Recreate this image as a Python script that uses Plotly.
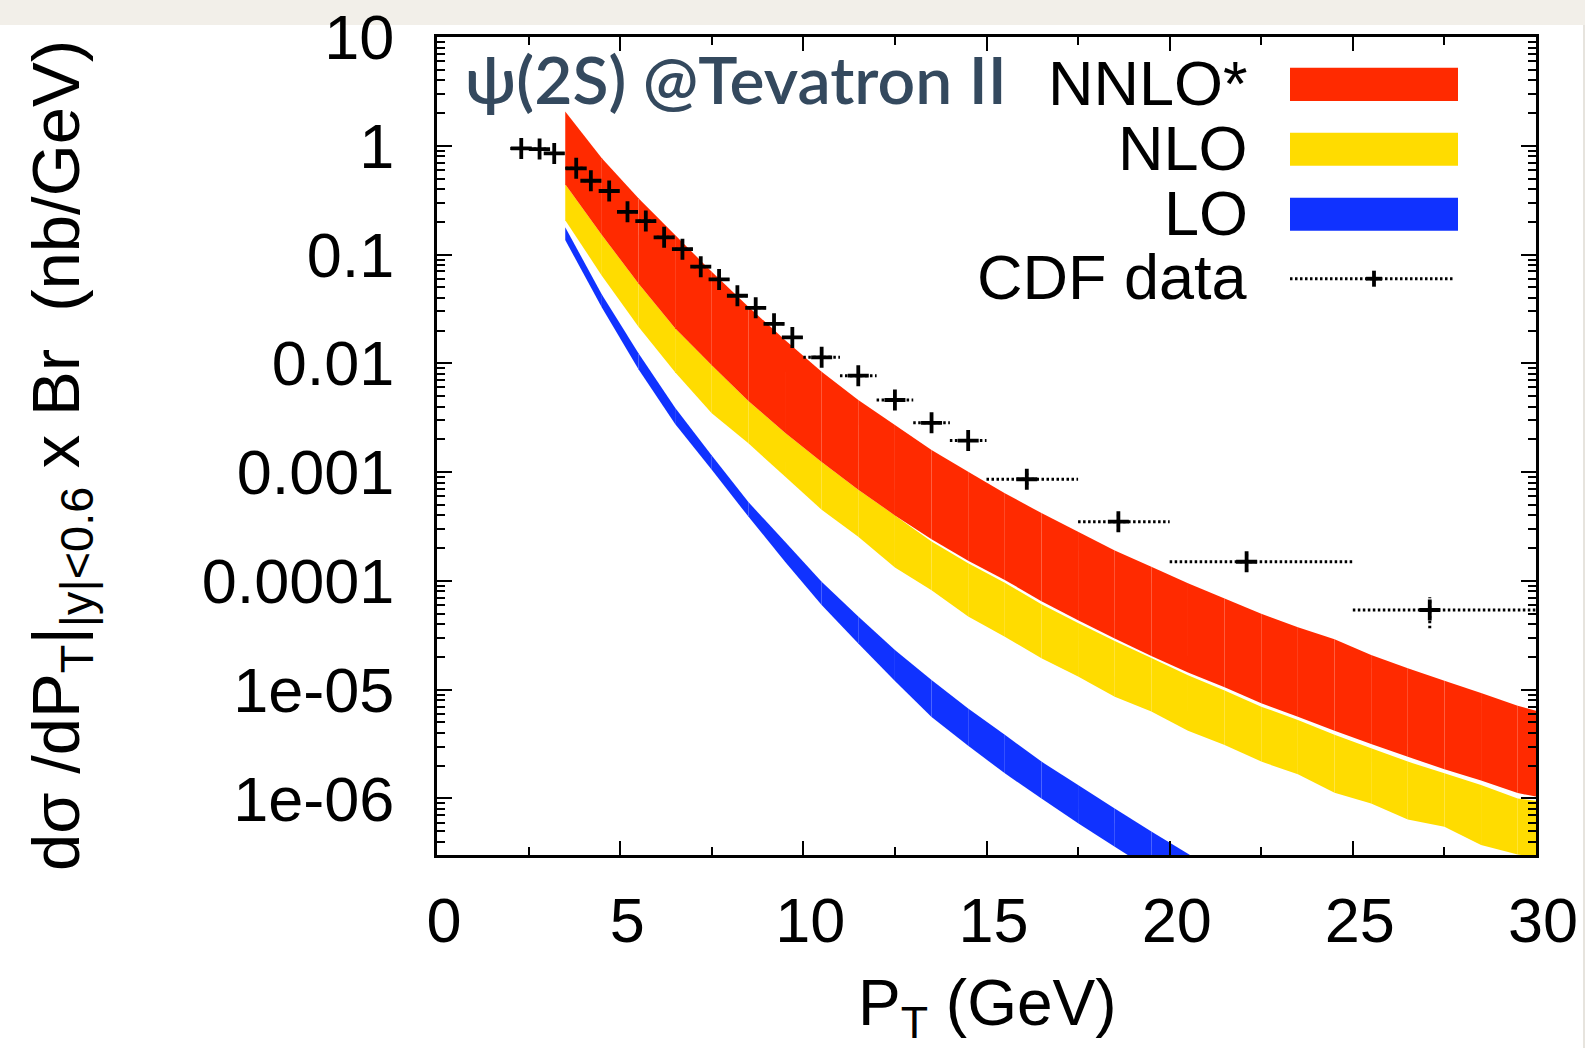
import plotly.graph_objects as go

# ---------------- data ----------------
pt_nodes = [3.5, 4.5, 5.5, 6.5, 7.5, 8.5, 9.5, 10.5, 11.5, 12.5, 13.5, 14.5, 15.5, 16.5,
            17.5, 18.5, 19.5, 20.5, 21.5, 22.5, 23.5, 24.5, 25.5, 26.5, 27.5, 28.5, 29.5, 30.0]

nnlo_hi = [2.07, 0.766, 0.329, 0.151, 0.0695, 0.0331, 0.0164, 0.00838, 0.0046, 0.00271,
           0.0016, 0.00101, 6.4e-4, 4.2e-4, 2.83e-4, 1.9e-4, 1.35e-4, 9.5e-5, 6.9e-5, 5.0e-5,
           3.74e-5, 2.9e-5, 2.08e-5, 1.57e-5, 1.21e-5, 9.3e-6, 7.1e-6, 6.4e-6]
nnlo_lo = [0.442, 0.151, 0.0543, 0.021, 0.0096, 0.0045, 0.0023, 0.00124, 6.9e-4, 4.0e-4,
           2.42e-4, 1.53e-4, 1.02e-4, 6.5e-5, 4.35e-5, 2.95e-5, 2.04e-5, 1.44e-5, 1.05e-5, 7.5e-6,
           5.65e-6, 4.2e-6, 3.17e-6, 2.42e-6, 1.85e-6, 1.46e-6, 1.12e-6, 1.04e-6]

nlo_hi = [0.442, 0.151, 0.0543, 0.021, 0.0096, 0.0045, 0.0023, 0.00124, 6.9e-4, 4.0e-4,
          2.3e-4, 1.45e-4, 9.6e-5, 6.1e-5, 4.1e-5, 2.8e-5, 1.95e-5, 1.36e-5, 9.8e-6, 6.98e-6,
          5.27e-6, 3.84e-6, 2.89e-6, 2.18e-6, 1.7e-6, 1.33e-6, 1.0e-6, 9.5e-7]
nlo_lo = [0.207, 0.064, 0.0217, 0.0083, 0.00348, 0.00184, 9.1e-4, 4.5e-4, 2.55e-4, 1.33e-4,
          8.2e-5, 4.7e-5, 3.07e-5, 1.94e-5, 1.32e-5, 8.6e-6, 6.3e-6, 4.2e-6, 3.1e-6, 2.18e-6,
          1.67e-6, 1.13e-6, 9.0e-7, 6.4e-7, 5.5e-7, 3.74e-7, 3.05e-7, 2.9e-7]

lo_pt = [3.5, 4.5, 5.5, 6.5, 7.5, 8.5, 9.5, 10.5, 11.5, 12.5, 13.5, 14.5, 15.5, 16.5,
         17.5, 18.5, 19.5, 20.5, 21.5]
lo_hi = [0.178, 0.043, 0.0124, 0.0039, 0.00142, 5.3e-4, 2.29e-4, 9.8e-5, 4.7e-5, 2.32e-5,
         1.23e-5, 6.7e-6, 3.84e-6, 2.18e-6, 1.33e-6, 8.1e-7, 4.96e-7, 3.1e-7, 1.9e-7]
lo_lo = [0.136, 0.0326, 0.0088, 0.00277, 0.00105, 3.9e-4, 1.5e-4, 6.0e-5, 2.65e-5, 1.2e-5,
         5.6e-6, 3.05e-6, 1.7e-6, 1.0e-6, 5.9e-7, 3.6e-7, 2.2e-7, 1.35e-7, 8.5e-8]

cdf_pt = [2.3, 2.8, 3.2, 3.8, 4.2, 4.7, 5.2, 5.7, 6.2, 6.7, 7.2, 7.7, 8.2, 8.7, 9.2, 9.7,
          10.5, 11.5, 12.5, 13.5, 14.5, 16.1, 18.6, 22.1, 27.1]
cdf_pt_lo = [2.0, 2.5, 3.0, 3.5, 4.0, 4.5, 5.0, 5.5, 6.0, 6.5, 7.0, 7.5, 8.0, 8.5, 9.0, 9.5,
             10.0, 11.0, 12.0, 13.0, 14.0, 15.0, 17.5, 20.0, 25.0]
cdf_pt_hi = [2.5, 3.0, 3.5, 4.0, 4.5, 5.0, 5.5, 6.0, 6.5, 7.0, 7.5, 8.0, 8.5, 9.0, 9.5, 10.0,
             11.0, 12.0, 13.0, 14.0, 15.0, 17.5, 20.0, 25.0, 30.0]
cdf_val = [0.946, 0.933, 0.851, 0.62, 0.477, 0.384, 0.247, 0.203, 0.144, 0.112, 0.0773,
           0.0591, 0.0418, 0.0324, 0.0231, 0.0173, 0.01135, 0.0077, 0.0046, 0.00284, 0.00195,
           8.6e-4, 3.5e-4, 1.5e-4, 5.4e-5]
cdf_err_lo = [None] * 21 + [7.6e-4, 2.83e-4, 1.22e-4, 3.66e-5]
cdf_err_hi = [None] * 21 + [9.75e-4, 4.2e-4, 1.79e-4, 7.06e-5]

y_tickvals = [10, 1, 0.1, 0.01, 0.001, 0.0001, 1e-05, 1e-06]
y_ticktext = ["10", "1", "0.1", "0.01", "0.001", "0.0001", "1e-05", "1e-06"]
x_tickvals = [0, 5, 10, 15, 20, 25, 30]

legend_labels = ["NNLO*", "NLO", "LO", "CDF data"]

RED = "#ff2a00"
YELLOW = "#ffdc00"
BLUE = "#1032ff"
TITLE_COL = "#34495e"
FONT = "Liberation Sans, Arial, Helvetica, sans-serif"

# ---------------- layout geometry (pixels) ----------------
W, H = 1585, 1048
ML, MR, MT, MB = 437, 49, 37, 193
PW, PH = W - ML - MR, H - MT - MB


def px(X):
    return (X - ML) / PW


def py(Y):
    return (H - MB - Y) / PH


fig = go.Figure()


def add_band(xs, hi, lo, color):
    for i in range(len(xs) - 1):
        fig.add_trace(go.Scatter(
            x=[xs[i], xs[i + 1], xs[i + 1], xs[i], xs[i]],
            y=[hi[i], hi[i + 1], lo[i + 1], lo[i], hi[i]],
            mode="lines", fill="toself", fillcolor=color,
            line=dict(width=0, color=color), hoverinfo="skip", showlegend=False))


add_band(lo_pt, lo_hi, lo_lo, BLUE)
add_band(pt_nodes, nlo_hi, nlo_lo, YELLOW)
add_band(pt_nodes, nnlo_hi, nnlo_lo, RED)

# CDF error bars (dotted)
ex, ey = [], []
for x0, x1, v in zip(cdf_pt_lo, cdf_pt_hi, cdf_val):
    ex += [x0, x1, None]
    ey += [v, v, None]
for x, a, b in zip(cdf_pt, cdf_err_lo, cdf_err_hi):
    if a is not None:
        ex += [x, x, None]
        ey += [a, b, None]
DOT = "2.5px,2.5px"
fig.add_trace(go.Scatter(x=ex, y=ey, mode="lines",
                         line=dict(color="black", width=3, dash=DOT),
                         hoverinfo="skip", showlegend=False))
fig.add_trace(go.Scatter(x=cdf_pt, y=cdf_val, mode="markers",
                         marker=dict(symbol="cross-thin", size=15,
                                     line=dict(color="black", width=3.8)),
                         showlegend=False))

axis_common = dict(showline=True, linewidth=3, linecolor="black", mirror="allticks",
                   ticks="inside", tickwidth=2, tickcolor="black", showgrid=False,
                   zeroline=False, automargin=False,
                   tickfont=dict(family=FONT, size=63, color="black"))

fig.update_xaxes(range=[0, 30], tickvals=x_tickvals, ticklen=14,
                 ticklabelstandoff=8, ticklabelshift=7,
                 minor=dict(ticks="inside", ticklen=8, tickwidth=2, tickcolor="black",
                            dtick=2.5, showgrid=False),
                 **axis_common)
fig.update_yaxes(type="log", range=[-6.52, 1], tickvals=y_tickvals, ticktext=y_ticktext,
                 ticklen=15, ticklabelstandoff=27,
                 minor=dict(ticks="inside", ticklen=8, tickwidth=2, tickcolor="black",
                            dtick="D1", showgrid=False),
                 **axis_common)

shapes = []
# page background decorations
shapes.append(dict(type="rect", xref="paper", yref="paper", x0=px(0), x1=px(W),
                   y0=py(25), y1=py(0), fillcolor="#f2efe9", line=dict(width=0), layer="below"))
shapes.append(dict(type="rect", xref="paper", yref="paper", x0=px(1583), x1=px(W),
                   y0=py(H), y1=py(25), fillcolor="#e7e4de", line=dict(width=0), layer="below"))

# legend swatches
sw_x0, sw_x1 = 1290, 1458
for (y0, y1), col in zip([(67.7, 101), (132.7, 165.7), (197.7, 230.7)], [RED, YELLOW, BLUE]):
    shapes.append(dict(type="rect", xref="paper", yref="paper", x0=px(sw_x0), x1=px(sw_x1),
                       y0=py(y1), y1=py(y0), fillcolor=col, line=dict(width=0)))
shapes.append(dict(type="line", xref="paper", yref="paper", x0=px(1290), x1=px(1455),
                   y0=py(278.7), y1=py(278.7),
                   line=dict(color="black", width=3, dash=DOT)))
shapes.append(dict(type="line", xref="paper", yref="paper", x0=px(1366), x1=px(1382),
                   y0=py(278.7), y1=py(278.7), line=dict(color="black", width=3.8)))
shapes.append(dict(type="line", xref="paper", yref="paper", x0=px(1374), x1=px(1374),
                   y0=py(270.7), y1=py(286.7), line=dict(color="black", width=3.8)))

annotations = []
for lab, yc in zip(legend_labels, [83, 148, 213, 277]):
    annotations.append(dict(text=lab, xref="paper", yref="paper", x=px(1250), y=py(yc),
                            xanchor="right", yanchor="middle", showarrow=False,
                            font=dict(family=FONT, size=63, color="black")))
annotations.append(dict(text="ψ(2S) @Tevatron II", xref="paper", yref="paper",
                        x=px(463), y=py(78), xanchor="left", yanchor="middle",
                        showarrow=False,
                        font=dict(family="Lato, Open Sans, sans-serif", size=66,
                                  weight=600, color=TITLE_COL)))
annotations.append(dict(text="P<sub>T</sub> (GeV)", xref="paper", yref="paper",
                        x=px(987), y=py(1007), xanchor="center", yanchor="middle",
                        showarrow=False, font=dict(family=FONT, size=64, color="black")))
annotations.append(dict(text="dσ /dP<sub>T</sub>|<sub>|y|<0.6</sub> x Br  (nb/GeV)",
                        xref="paper", yref="paper", x=px(60), y=py(455),
                        xanchor="center", yanchor="middle", textangle=-90,
                        showarrow=False, font=dict(family=FONT, size=67, color="black")))

fig.update_layout(width=W, height=H, margin=dict(l=ML, r=MR, t=MT, b=MB, pad=0),
                  paper_bgcolor="white", plot_bgcolor="white",
                  shapes=shapes, annotations=annotations, showlegend=False)

fig.write_html("out.html", config={"displayModeBar": False})
